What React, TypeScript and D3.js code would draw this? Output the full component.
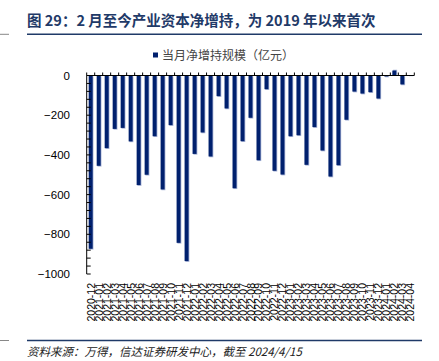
import React from "react";
import * as d3 from "d3";

const months: string[] = [
  "2020-12",
  "2021-01","2021-02","2021-03","2021-04","2021-05","2021-06","2021-07","2021-08","2021-09","2021-10","2021-11","2021-12",
  "2022-01","2022-02","2022-03","2022-04","2022-05","2022-06","2022-07","2022-08","2022-09","2022-10","2022-11","2022-12",
  "2023-01","2023-02","2023-03","2023-04","2023-05","2023-06","2023-07","2023-08","2023-09","2023-10","2023-11","2023-12",
  "2024-01","2024-02","2024-03","2024-04",
];

const netIncrease: number[] = [
  -873,
  -455, -366, -269, -264, -332, -552, -500, -306, -574, -250, -843,
  -935, -395, -287, -408, -104, -166, -568, -331, -213, -427, -69, -480,
  -499, -306, -301, -450, -260, -378, -509, -452, -223, -81, -91, -84,
  -116, -5, 25, -45, -1,
];

const yTickLabels: number[] = [0, -200, -400, -600, -800, -1000];

const titleText = "图 29：2 月至今产业资本净增持，为 2019 年以来首次";
const legendText = "当月净增持规模（亿元）";
const sourceText = "资料来源：万得，信达证券研发中心，截至 2024/4/15";

export default function App() {
  const W = 439;
  const H = 361;
  const x0 = 86.7;
  const x1 = 414.3;
  const yTop = 75.5;
  const yBottom = 274;

  const x = d3.scaleBand<string>().domain(months).range([x0, x1]).paddingInner(0.5).paddingOuter(0.25);
  const band = d3.scaleBand<string>().domain(months).range([x0, x1]);
  const y = d3.scaleLinear().domain([-1000, 0]).range([yBottom, yTop]);

  const minorTicks = d3.range(-1000, 1, 40);
  const navy = "#1f3a68";
  const barColor = "#00206e";
  const shadowColor = "#aab6d8";
  const fontLatin = "'Liberation Sans', Arial, sans-serif";
  const fontCJK = "'Noto Sans CJK SC', 'Liberation Sans', sans-serif";

  return (
    <svg width={W} height={H} style={{ position: "absolute", left: 0, top: 0 }}>
      <rect x={0} y={0} width={W} height={H} fill="#fff" />
      {/* Title */}
      <text x={27} y={26} fontFamily={fontCJK} fontWeight="bold" fontSize={14.5} fill={navy}>
        {titleText}
      </text>
      <line x1={27} x2={422} y1={34.3} y2={34.3} stroke={navy} strokeWidth={1.5} />
      <line x1={0} x2={9} y1={34.3} y2={34.3} stroke="#888" strokeWidth={1} />

      {/* Legend */}
      <rect x={153} y={52.5} width={5} height={5} fill={barColor} />
      <text x={162} y={59.5} fontFamily={fontCJK} fontSize={12} fill="#444">
        {legendText}
      </text>

      {/* Bars */}
      {months.map((m, i) => {
        const v = netIncrease[i];
        const top = Math.min(y(v), y(0));
        const h = Math.abs(y(v) - y(0));
        const bx = x(m) as number;
        const bw = x.bandwidth();
        return (
          <g key={m}>
            <rect x={bx + 0.8} y={top + (v < 0 ? 0.8 : -0.8)} width={bw} height={h} fill={shadowColor} />
            <rect x={bx} y={top} width={bw} height={h} fill={barColor} />
          </g>
        );
      })}

      {/* X axis */}
      <line x1={x0} x2={x1} y1={y(0)} y2={y(0)} stroke="#000" strokeWidth={1} />
      {d3.range(0, months.length + 1).map((i) => {
        const tx = x0 + i * band.step();
        return <line key={"xt" + i} x1={tx} x2={tx} y1={y(0)} y2={y(0) - 3} stroke="#000" strokeWidth={1} />;
      })}
      {months.map((m) => {
        const cx = (band(m) as number) + band.bandwidth() / 2;
        return (
          <text
            key={"xl" + m}
            transform={`translate(${cx},${283}) rotate(-90)`}
            textAnchor="end"
            dominantBaseline="central"
            fontFamily={fontLatin}
            fontSize={10.5}
            fill="#000"
          >
            {m}
          </text>
        );
      })}

      {/* Y axis */}
      <line x1={x0} x2={x0} y1={yTop} y2={yBottom} stroke="#000" strokeWidth={1} />
      {minorTicks.map((t) => (
        <line key={"yt" + t} x1={x0} x2={x0 + 4} y1={y(t)} y2={y(t)} stroke="#000" strokeWidth={1} />
      ))}
      {yTickLabels.map((t) => (
        <text
          key={"yl" + t}
          x={70}
          y={y(t)}
          textAnchor="end"
          dominantBaseline="central"
          fontFamily={fontLatin}
          fontSize={11.5}
          fill="#000"
        >
          {t < 0 ? "\u2212" + Math.abs(t) : String(t)}
        </text>
      ))}

      {/* Footer */}
      <line x1={27} x2={422} y1={340.5} y2={340.5} stroke={navy} strokeWidth={1.5} />
      <line x1={0} x2={9} y1={340.5} y2={340.5} stroke="#888" strokeWidth={1} />
      <text x={27} y={356} fontFamily={fontCJK} fontStyle="italic" fontSize={11.5} fill="#222">
        {sourceText}
      </text>
    </svg>
  );
}
